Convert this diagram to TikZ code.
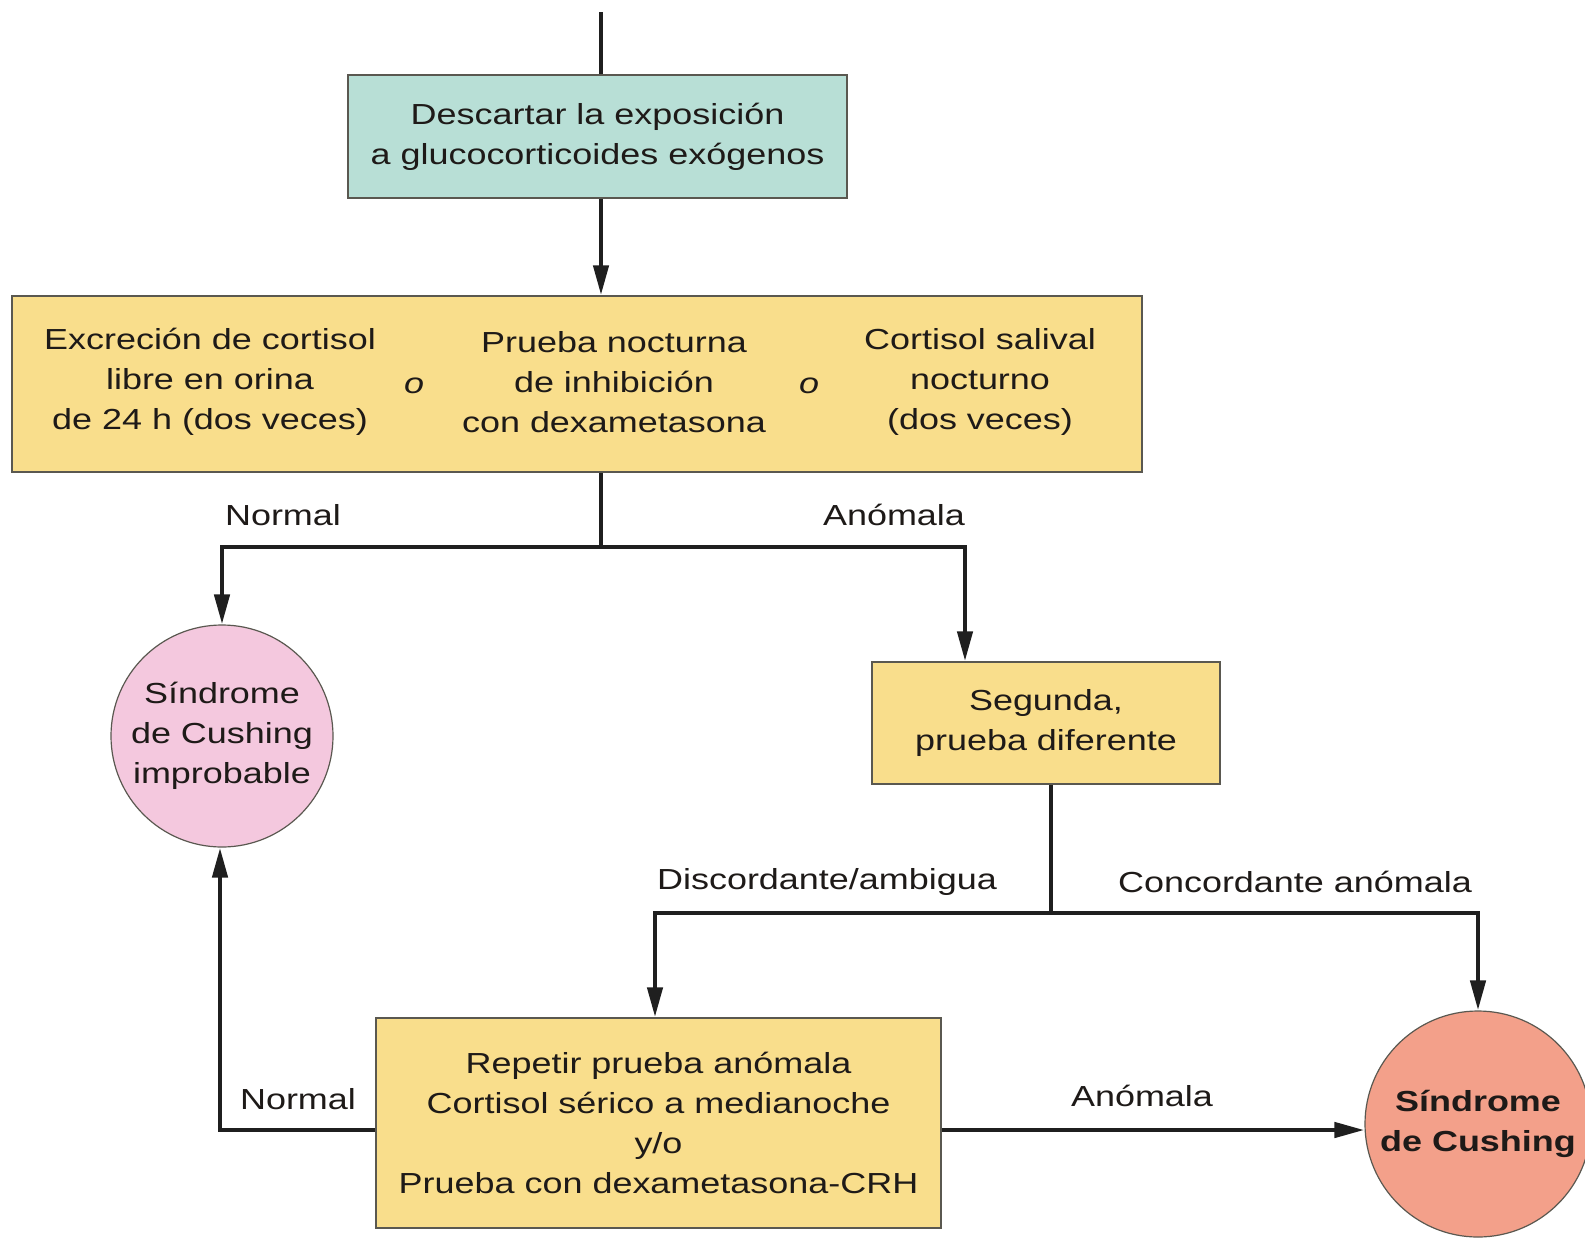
\documentclass[tikz,border=0pt]{standalone}
\usepackage{fontspec}
\setmainfont[FakeStretch=1.24]{Liberation Sans}
\usetikzlibrary{arrows.meta}
\definecolor{tealbox}{RGB}{184,223,214}
\definecolor{yellowbox}{RGB}{249,222,140}
\definecolor{pinkc}{RGB}{244,200,222}
\definecolor{salmonc}{RGB}{243,160,138}
\definecolor{txt}{RGB}{30,26,24}
\definecolor{edge}{RGB}{90,88,80}
\tikzset{
  box/.style={draw=edge, line width=1.5pt, inner sep=0pt, align=center, text=txt},
  circ/.style={circle, draw=edge, line width=1.2pt, inner sep=0pt, align=center, text=txt},
  lab/.style={text=txt, inner sep=0pt},
  conn/.style={line width=4.5pt, draw=black!88},
  arr/.style={conn, -{Triangle[length=30pt,width=15pt]}},
}
\begin{document}
\begin{tikzpicture}[x=1pt,y=-1pt, font=\fontsize{29}{40}\selectfont]
\useasboundingbox[fill=white] (0,0) rectangle (1585,1237);
\coordinate (top) at (601,12);
\node[box, fill=tealbox, minimum width=499pt, minimum height=123pt] (desc) at (597.5,136.5)
  {Descartar la exposición\\a glucocorticoides exógenos};
\node[box, fill=yellowbox, minimum width=1130pt, minimum height=176pt] (tests) at (577,384) {};
\node[lab, align=center] (c1) at (210,382) {Excreción de cortisol\\libre en orina\\de 24 h (dos veces)};
\node[lab] (o1) at (414,386) {\itshape o};
\node[lab, align=center] (c2) at (614,382) {Prueba nocturna\\de inhibición\\con dexametasona};
\node[lab] (o2) at (809,386) {\itshape o};
\node[lab, align=center] (c3) at (980,382) {Cortisol salival\\nocturno\\(dos veces)};
\coordinate (j1) at (601,547);
\node[circ, fill=pinkc, minimum size=222pt] (improb) at (222,736)
  {Síndrome\\de Cushing\\improbable};
\node[box, fill=yellowbox, minimum width=348pt, minimum height=122pt] (seg) at (1046,723)
  {Segunda,\\prueba diferente};
\coordinate (j2) at (1051,913);
\node[box, fill=yellowbox, minimum width=565pt, minimum height=210pt] (rep) at (658.5,1123)
  {Repetir prueba anómala\\Cortisol sérico a medianoche\\y/o\\Prueba con dexametasona-CRH};
\node[circ, fill=salmonc, minimum size=226pt, font=\fontsize{29}{40}\selectfont\bfseries] (cush) at (1478,1124)
  {Síndrome\\de Cushing};
\coordinate (lc) at (220,1130);
% connectors
\draw[conn] (top) -- (top |- desc.north);
\draw[arr] (desc.south -| top) -- (tests.north -| top);
\draw[conn] (tests.south -| top) -- (j1);
\draw[arr] (j1) -| (improb.north);
\draw[arr] (j1) -| (seg.north -| 965,0);
\draw[conn] (seg.south -| j2) -- (j2);
\draw[arr] (j2) -| (rep.north -| 655,0);
\draw[arr] (j2) -| (cush.north);
\draw[arr] (rep.east |- lc) -- (cush.west |- lc);
\draw[arr] (rep.west |- lc) -- (lc) -- (improb.south -| lc);
% labels
\node[lab] (n1) at (283,515) {Normal};
\node[lab] (a1) at (894,515) {Anómala};
\node[lab] (d1) at (827,882) {Discordante/ambigua};
\node[lab] (cc) at (1295,882) {Concordante anómala};
\node[lab] (n2) at (298,1099) {Normal};
\node[lab] (a2) at (1142,1096) {Anómala};
\end{tikzpicture}
\end{document}
